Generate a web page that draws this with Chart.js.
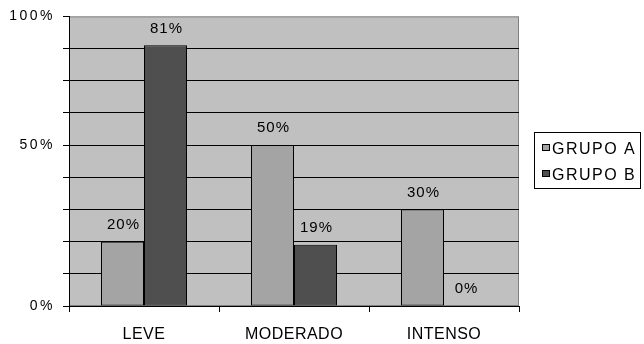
<!DOCTYPE html>
<html>
<head>
<meta charset="utf-8">
<script src="https://cdn.jsdelivr.net/npm/chart.js@4"></script>
<style>
  html, body { margin: 0; padding: 0; background: #fff; }
  canvas { display: block; }
</style>
</head>
<body>
<canvas id="chart" width="644" height="344"></canvas>
<script>
// Chart data
const categories = ['LEVE', 'MODERADO', 'INTENSO'];
const seriesNames = ['GRUPO A', 'GRUPO B'];
const grupoA = [20, 50, 30];
const grupoB = [81, 19, 0];

// Axis: the old chart runs 0..90 with ten steps, labelled only at three ticks
const yMax = 90;
const yStep = 10;
const yTickValues = [0, 50, 90];
const yTickTexts = ['0%', '50%', '100%'];

const fontFamily = "'Liberation Sans', Arial, sans-serif";

// Grey plot background with a thin grey frame
const plotBackground = {
    id: 'plotBackground',
    beforeDraw(chart) {
        const { ctx, chartArea: a } = chart;
        ctx.save();
        ctx.fillStyle = '#c0c0c0';
        ctx.fillRect(a.left, a.top, a.right - a.left, a.bottom - a.top);
        ctx.strokeStyle = '#808080';
        ctx.lineWidth = 1;
        ctx.strokeRect(a.left + 0.5, a.top + 0.5, a.right - a.left - 1, a.bottom - a.top - 1);
        ctx.restore();
        // x tick labels are drawn with this spacing
        ctx.letterSpacing = '0.5px';
    }
};

// Percent labels above each bar, then spacing for y tick labels (drawn after datasets)
const barLabels = {
    id: 'barLabels',
    afterDatasetsDraw(chart) {
        const ctx = chart.ctx;
        ctx.save();
        ctx.letterSpacing = '1px';
        ctx.font = '15px ' + fontFamily;
        ctx.fillStyle = '#000';
        ctx.textAlign = 'center';
        ctx.textBaseline = 'middle';
        chart.data.datasets.forEach((ds, i) => {
            chart.getDatasetMeta(i).data.forEach((bar, j) => {
                ctx.fillText(ds.data[j] + '%', bar.x + 1, bar.y - 17);
            });
        });
        ctx.restore();
        ctx.letterSpacing = '2.5px';
    }
};

// Boxed legend on the right
const boxLegend = {
    id: 'boxLegend',
    afterDraw(chart) {
        const ctx = chart.ctx;
        ctx.save();
        ctx.letterSpacing = '1.5px';
        ctx.strokeStyle = '#000';
        ctx.lineWidth = 1;
        ctx.strokeRect(534.5, 132.5, 106, 56);
        ctx.font = '16px ' + fontFamily;
        ctx.textBaseline = 'middle';
        ctx.textAlign = 'left';
        chart.data.datasets.forEach((ds, i) => {
            const y = 150 + i * 26;
            ctx.fillStyle = ds.backgroundColor;
            ctx.fillRect(542, y - 6, 8, 7);
            ctx.strokeRect(542.5, y - 5.5, 7, 6);
            ctx.fillStyle = '#000';
            ctx.fillText(ds.label, 552, y);
        });
        ctx.restore();
    }
};

new Chart(document.getElementById('chart'), {
    type: 'bar',
    data: {
        labels: categories,
        datasets: [
            { label: seriesNames[0], data: grupoA, backgroundColor: '#a4a4a4' },
            { label: seriesNames[1], data: grupoB, backgroundColor: '#4f4f4f' }
        ].map(ds => ({
            ...ds,
            borderColor: '#000',
            borderWidth: 1,
            borderSkipped: false,
            categoryPercentage: 0.5733,
            barPercentage: 1
        }))
    },
    options: {
        responsive: false,
        animation: false,
        devicePixelRatio: 1,
        layout: { padding: { top: 15, right: 125, left: 0, bottom: 0 } },
        plugins: {
            legend: { display: false },
            tooltip: { enabled: false }
        },
        scales: {
            x: {
                offset: true,
                grid: {
                    offset: true,
                    drawOnChartArea: false,
                    drawTicks: true,
                    tickLength: 6,
                    tickColor: '#000'
                },
                border: { color: '#000', width: 1 },
                ticks: {
                    color: '#000',
                    padding: 13,
                    font: { family: fontFamily, size: 16 },
                    maxRotation: 0
                },
                afterFit(scale) { scale.height = 38; }
            },
            y: {
                min: 0,
                max: yMax,
                grid: {
                    color: ctx => ctx.tick && ctx.tick.value === yMax ? 'rgba(0,0,0,0)' : '#000',
                    tickColor: '#000',
                    tickLength: 6,
                    z: -1
                },
                border: { color: '#000', width: 1 },
                ticks: {
                    stepSize: yStep,
                    autoSkip: false,
                    color: '#000',
                    padding: 8,
                    z: 1,
                    font: { family: fontFamily, size: 14 },
                    callback: value => {
                        const k = yTickValues.indexOf(value);
                        return k >= 0 ? yTickTexts[k] : '';
                    }
                },
                afterFit(scale) { scale.width = 69; }
            }
        }
    },
    plugins: [plotBackground, barLabels, boxLegend]
});
</script>
</body>
</html>
